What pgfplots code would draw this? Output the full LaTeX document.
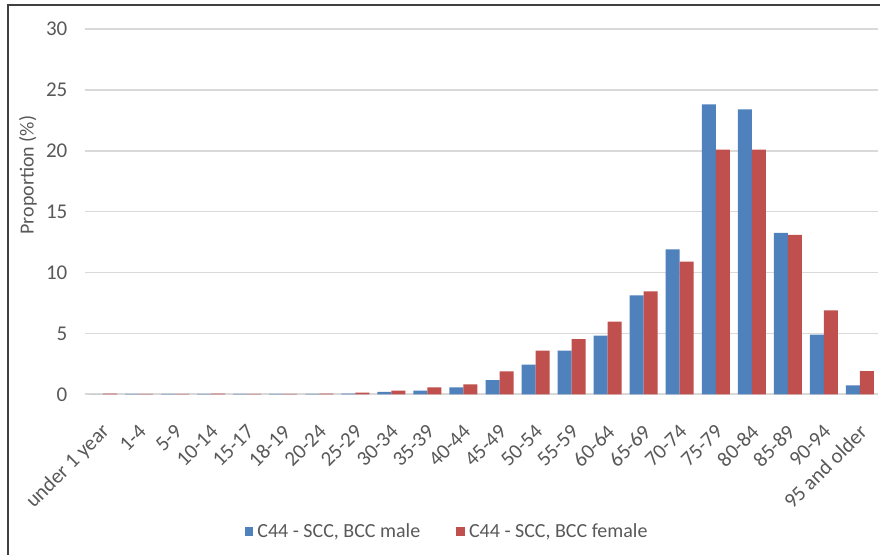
\documentclass[border=0pt]{standalone}
\usepackage{fontspec}
\setmainfont{Carlito}
\usepackage{pgfplots}
\pgfplotsset{compat=1.18}
\definecolor{male}{HTML}{4F81BD}
\definecolor{female}{HTML}{C0504D}
\definecolor{txt}{HTML}{595959}
\definecolor{gridc}{HTML}{D9D9D9}
\begin{document}
\begin{tikzpicture}
\useasboundingbox (0pt,0pt) rectangle (440pt,277.5pt);
\fill[white] (0pt,0pt) rectangle (440pt,277.5pt);
% frame (only top and left edges visible)
\draw[line width=1pt, color=black!75] (3.75pt,0pt) -- (3.75pt,274.75pt) -- (440pt,274.75pt);
\begin{axis}[
    at={(42.5pt,80.35pt)}, anchor=south west,
    scale only axis, width=396.5pt, height=182.65pt,
    ybar=0pt, bar width=7pt,
    xmin=-0.5, xmax=21.5, ymin=0, ymax=30,
    ytick={0,5,...,30},
    xtick={0,...,21},
    xticklabels={under 1 year,1-4,5-9,10-14,15-17,18-19,20-24,25-29,30-34,35-39,40-44,45-49,50-54,55-59,60-64,65-69,70-74,75-79,80-84,85-89,90-94,95 and older},
    axis lines=left,
    axis line style={draw=none},
    ymajorgrids, grid style={gridc, line width=0.8pt},
    major tick length=0pt,
    /pgf/number format/assume math mode=true,
    tick label style={font=\fontsize{10.5}{12}\selectfont, text=txt},
    yticklabel style={xshift=-5.3pt},
    xticklabel style={xshift=1.8pt, yshift=-17pt, rotate=45, anchor=east, inner sep=0pt},
    ylabel={Proportion (\%)},
    every axis y label/.style={at={(axis description cs:-0.072,0.60)}, rotate=90, anchor=center, font=\fontsize{10}{12}\selectfont, text=txt},
    legend style={at={(axis description cs:0.4578,-0.376)}, anchor=center, draw=none, fill=none,
        legend columns=2, font=\fontsize{10}{12}\selectfont, text=txt,
        /tikz/every even column/.append style={column sep=16pt}},
    legend image code/.code={\fill[#1] (0pt,-2.2pt) rectangle (4.4pt,2.2pt);},
]
\addplot[fill=male, draw=none] coordinates {
    (0,0.0) (1,0.03) (2,0.03) (3,0.03) (4,0.03) (5,0.03) (6,0.04) (7,0.06)
    (8,0.2) (9,0.3) (10,0.57) (11,1.17) (12,2.43) (13,3.58) (14,4.82)
    (15,8.13) (16,11.9) (17,23.8) (18,23.4) (19,13.25) (20,4.9) (21,0.74)
};
\addplot[fill=female, draw=none] coordinates {
    (0,0.05) (1,0.04) (2,0.04) (3,0.05) (4,0.04) (5,0.04) (6,0.05) (7,0.13)
    (8,0.3) (9,0.57) (10,0.82) (11,1.89) (12,3.58) (13,4.54) (14,5.97)
    (15,8.46) (16,10.9) (17,20.1) (18,20.1) (19,13.1) (20,6.9) (21,1.9)
};
\legend{C44 - SCC{,} BCC male, C44 - SCC{,} BCC female}
\end{axis}
\end{tikzpicture}
\end{document}
